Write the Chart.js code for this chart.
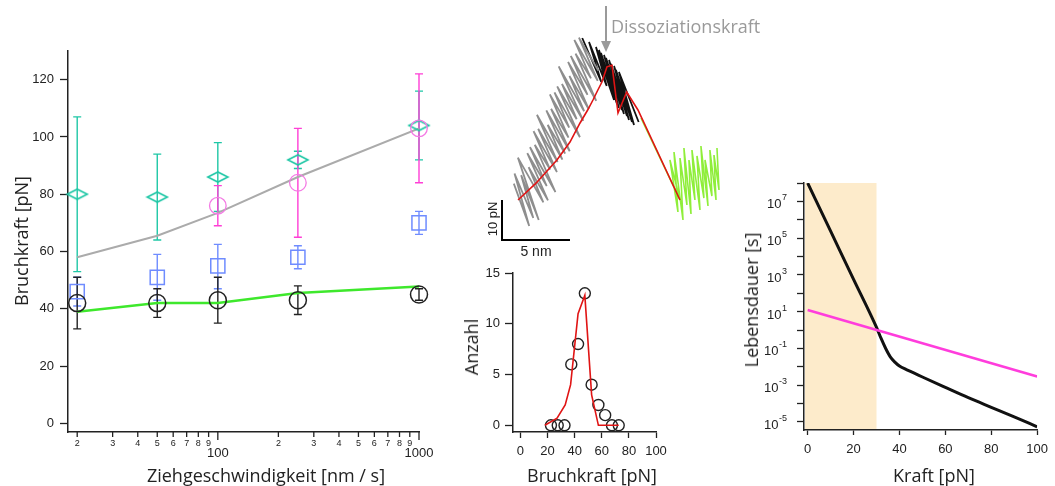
<!DOCTYPE html>
<html lang="de">
<head>
<meta charset="utf-8">
<title>Dissoziationskraft</title>
<script src="https://cdn.jsdelivr.net/npm/chart.js@4.4.1/dist/chart.umd.min.js"></script>
<style>
  html, body { margin: 0; background: #fff; }
  #fig { position: relative; width: 1055px; height: 486px; overflow: hidden; font-family: "Open Sans", Roboto, sans-serif; color: #222; }
  #fig canvas { position: absolute; }
  .lbl { position: absolute; white-space: nowrap; line-height: 1; transform: translate(-50%, -50%); }
  .rot { transform: translate(-50%, -50%) rotate(-90deg); }
  .sans { font-family: "Liberation Sans", Arial, sans-serif; }
</style>
</head>
<body>
<div id="fig">
  <canvas id="speed" width="440" height="486" style="left:0;top:0"></canvas>
  <canvas id="trace" width="355" height="262" style="left:480px;top:0"></canvas>
  <canvas id="hist" width="240" height="231" style="left:440px;top:255px"></canvas>
  <canvas id="life" width="335" height="316" style="left:720px;top:170px"></canvas>

  <div class="lbl rot" style="left:21px;top:241px;font-size:18px">Bruchkraft [pN]</div>
  <div class="lbl" style="left:266px;top:475px;font-size:18px">Ziehgeschwindigkeit [nm / s]</div>
  <div class="lbl" style="left:611px;top:26px;transform:translate(0,-50%);color:#9a9a9a;font-size:18px">Dissoziationskraft</div>
  <div class="lbl rot sans" style="left:492px;top:219px;font-size:13px">10 pN</div>
  <div class="lbl sans" style="left:536px;top:251px;font-size:14px">5 nm</div>
  <div class="lbl rot" style="left:471px;top:347px;font-size:18px">Anzahl</div>
  <div class="lbl" style="left:592px;top:475px;font-size:18px">Bruchkraft [pN]</div>
  <div class="lbl rot" style="left:751px;top:300px;font-size:18px">Lebensdauer [s]</div>
  <div class="lbl" style="left:934px;top:475px;font-size:18px">Kraft [pN]</div>
</div>

<script>
// Bruchkraft gegen Ziehgeschwindigkeit (log x)
const speeds = [20, 50, 100, 250, 1000];
const blackForce = [42, 42, 43, 43, 45];
const blackLow = [33, 37, 35, 38, 43];
const blackHigh = [51, 47, 51, 48, 47];
const blueForce = [46, 51, 55, 58, 70];
const blueLow = [41, 43, 47, 54, 66];
const blueHigh = [51, 59, 62.5, 62, 74];
const tealForce = [80, 79, 86, 92, 104];
const tealLow = [53, 64, 74, 89, 92];
const tealHigh = [107, 94, 98, 95, 116];
const pinkSpeeds = [100, 250, 1000];
const pinkForce = [76, 84, 103];
const pinkLow = [69, 65, 84];
const pinkHigh = [83, 103, 122];
const greenFit = [39, 42, 42, 45.5, 47.8];
const grayFit = [58, 65.5, 73.5, 86, 103];
const forceTicks = [0, 20, 40, 60, 80, 100, 120];
const speedTicks = [20, 30, 40, 50, 60, 70, 80, 90, 100, 200, 300, 400, 500, 600, 700, 800, 900, 1000];
const speedTickLabels = ['2', '3', '4', '5', '6', '7', '8', '9', '100', '2', '3', '4', '5', '6', '7', '8', '9', '1000'];

// Kraft-Abstands-Kurve (nm, pN), Nullpunkt am Massstab
const grayNm = [0.87, 2.0, 0.92, 2.3, 1.41, 2.7, 1.17, 3.04, 1.96, 3.38, 1.86, 3.29, 2.06, 3.93, 2.41, 3.54, 2.32, 4.04, 2.66, 4.09,
  2.57, 4.44, 3.36, 4.64, 3.26, 4.98, 3.61, 4.89, 3.52, 4.94, 3.86, 5.73, 4.06, 5.49, 4.41, 5.98, 4.17, 6.04, 4.96, 6.38,
  4.86, 6.29, 5.06, 6.93, 5.41, 6.54, 5.32, 7.04, 5.66, 7.09];
const grayPn = [14.1, 3.5, 16.6, 5.5, 16.2, 5.0, 20.6, 9.4, 18.2, 9.9, 21.7, 13.5, 23.2, 12.0, 23.8, 17.6, 27.2, 17.0, 27.8, 19.5,
  31.3, 20.1, 28.8, 21.6, 32.4, 22.2, 32.8, 25.6, 36.4, 28.1, 36.9, 25.7, 38.4, 30.2, 39.0, 29.8, 43.4, 32.2, 41.0, 32.7,
  44.5, 36.3, 46.0, 34.8, 46.6, 40.4, 50.0, 39.8, 50.6, 42.3];
const blackNm = [5.9, 7.3, 6.4, 7.7, 6.91, 8.24, 7.13, 8.46, 7.28, 8.6, 7.5, 8.82, 7.65, 8.97, 7.87, 9.19, 8.01, 9.34, 8.24, 9.56,
  8.38, 9.71, 8.6, 10.05];
const blackPn = [50.5, 39.5, 49.5, 38.5, 48.25, 35, 47.5, 34, 46.75, 33, 46.25, 32.5, 45.5, 31.5, 45, 31, 44, 30, 43.5, 29.5,
  42.5, 28.75, 42, 29.5];
const greenNm = [10.22, 11.62, 13.09, 12.35, 12.94, 12.65, 13.31, 13.09, 13.6, 13.38, 13.9, 13.75, 14.19, 13.97, 14.56, 14.34,
  14.85, 14.63, 15.15, 14.93, 15.44, 15.29, 15.74, 15.59, 15.96, 15.81];
const greenPn = [30.5, 20.5, 10, 20, 7, 22, 5, 20.5, 8.75, 23, 6.5, 20, 10, 22.5, 7.5, 21, 10.5, 23.5, 8.5, 20, 11, 22.5, 10, 21.25, 12.5, 23];
const fitNm = [1.18, 2.5, 4.04, 5.0, 5.74, 6.3, 6.69, 7.05, 7.35, 7.72, 8.09, 8.53, 9.17, 10.0, 13.09];
const fitPn = [10, 14.2, 20, 24.5, 29.25, 32.5, 35, 37.5, 39.5, 43.3, 43.7, 31.75, 37, 32.5, 10];
const barNm = 5;
const barPn = 10;
const dissocNm = 7.65;
const dissocPn = 47;

// Histogramm der Bruchkraefte
const histBins = [22.5, 27.5, 32.5, 37.5, 42.5, 47.5, 52.5, 57.5, 62.5, 67.5, 72.5];
const histCounts = [0, 0, 0, 6, 8, 13, 4, 2, 1, 0, 0];
const histFitX = [18, 27, 33, 37, 42.5, 47.5, 52.5, 57.5, 72.5];
const histFitY = [0, 0.7, 2, 4, 11, 12.8, 3, 0, 0];
const countTicks = [0, 5, 10, 15];
const binTicks = [0, 20, 40, 60, 80, 100];

// Lebensdauer gegen Kraft
const kraftGrid = [0, 10, 20, 30, 32, 34, 36, 38, 40, 43, 46, 50, 60, 70, 80, 90, 100];
const lifeBlack = [1e8, 2.4e5, 575, 1.4, 0.35, 0.1, 0.035, 0.018, 0.011, 0.0071, 0.0048, 0.0028, 7.6e-4, 2.1e-4, 6.3e-5, 1.9e-5, 5.5e-6];
const pinkKraft = [0, 100];
const lifePink = [12.3, 0.003];
const lifeExponents = [8, 7, 6, 5, 4, 3, 2, 1, 0, -1, -2, -3, -4, -5];
const kraftTicks = [0, 20, 40, 60, 80, 100];
const shadedUpTo = 30;

const INK = '#222';
const FONT = '"Liberation Sans", Arial, sans-serif';
Chart.defaults.font.family = FONT;
Chart.defaults.color = INK;

const pts = (xs, ys) => xs.map((x, i) => ({ x, y: ys[i] }));

function axisStyle(tickLength, padding) {
  return {
    grid: { drawOnChartArea: false, tickLength, tickColor: INK, tickWidth: 1.3 },
    border: { color: INK, width: 1.5 },
    ticks: { color: INK, font: { size: 13 }, autoSkip: false, maxRotation: 0, padding }
  };
}

const baseOptions = (padding) => ({
  responsive: false,
  animation: false,
  events: [],
  layout: { padding },
  plugins: { legend: { display: false }, tooltip: { enabled: false } }
});

// flache Raute fuer die tuerkisen Messpunkte
function diamond(w, h, color) {
  const c = document.createElement('canvas');
  c.width = w + 4;
  c.height = h + 4;
  const g = c.getContext('2d');
  g.strokeStyle = color;
  g.lineWidth = 1.6;
  g.beginPath();
  g.moveTo(2, h / 2 + 2);
  g.lineTo(w / 2 + 2, 2);
  g.lineTo(w + 2, h / 2 + 2);
  g.lineTo(w / 2 + 2, h + 2);
  g.closePath();
  g.stroke();
  return c;
}

const TEAL = '#1fc7a6';
const BLUE = '#6f8cff';
const PINK = '#ff3fd6';

const errorSets = [
  { xs: speeds, low: tealLow, high: tealHigh, color: TEAL },
  { xs: speeds, low: blueLow, high: blueHigh, color: BLUE },
  { xs: speeds, low: blackLow, high: blackHigh, color: INK },
  { xs: pinkSpeeds, low: pinkLow, high: pinkHigh, color: PINK }
];

const errorBars = {
  id: 'errorBars',
  beforeDatasetsDraw(chart) {
    const { ctx, scales: { x, y } } = chart;
    ctx.save();
    ctx.lineWidth = 1.4;
    errorSets.forEach(s => {
      ctx.strokeStyle = s.color;
      s.xs.forEach((v, i) => {
        const px = x.getPixelForValue(v);
        const lo = y.getPixelForValue(s.low[i]);
        const hi = y.getPixelForValue(s.high[i]);
        ctx.beginPath();
        ctx.moveTo(px, lo); ctx.lineTo(px, hi);
        ctx.moveTo(px - 4, lo); ctx.lineTo(px + 4, lo);
        ctx.moveTo(px - 4, hi); ctx.lineTo(px + 4, hi);
        ctx.stroke();
      });
    });
    ctx.restore();
  }
};

// Igor-artige Log-Achse: kurze Striche mit kleinen Ziffern, lange Striche an den Dekaden
const speedAxisMarks = {
  id: 'speedAxisMarks',
  afterDraw(chart) {
    const { ctx, scales: { x } } = chart;
    const y0 = x.top;
    ctx.save();
    ctx.strokeStyle = INK;
    ctx.fillStyle = INK;
    ctx.lineWidth = 1.3;
    ctx.textAlign = 'center';
    ctx.textBaseline = 'middle';
    speedTicks.forEach((v, i) => {
      const px = x.getPixelForValue(v);
      const major = speedTickLabels[i].length > 1;
      ctx.beginPath();
      ctx.moveTo(px, y0);
      ctx.lineTo(px, y0 + (major ? 8 : 5));
      ctx.stroke();
      ctx.font = (major ? 13 : 9) + 'px ' + FONT;
      ctx.fillText(speedTickLabels[i], px, y0 + (major ? 21 : 12));
    });
    ctx.restore();
  }
};

new Chart(document.getElementById('speed'), {
  type: 'scatter',
  data: {
    datasets: [
      { data: pts(speeds, blackForce), pointStyle: 'circle', pointRadius: 8.5, pointBorderColor: INK, pointBorderWidth: 1.5, pointBackgroundColor: 'rgba(0,0,0,0)', clip: false },
      { data: pts(pinkSpeeds, pinkForce), pointStyle: 'circle', pointRadius: 8.3, pointBorderColor: '#f47ae4', pointBorderWidth: 1.3, pointBackgroundColor: 'rgba(0,0,0,0)', clip: false },
      { data: pts(speeds, blueForce), pointStyle: 'rect', pointRadius: 10, pointBorderColor: BLUE, pointBorderWidth: 1.5, pointBackgroundColor: 'rgba(0,0,0,0)', clip: false },
      { data: pts(speeds, tealForce), pointStyle: diamond(20, 10, TEAL), pointRadius: 6, clip: false },
      { data: pts(speeds, greenFit), showLine: true, borderColor: '#3ee82c', borderWidth: 2.5, pointRadius: 0 },
      { data: pts(speeds, grayFit), showLine: true, borderColor: '#ababab', borderWidth: 2, pointRadius: 0 }
    ]
  },
  options: {
    ...baseOptions({ top: 51, right: 21, left: 0, bottom: 0 }),
    scales: {
      x: {
        type: 'logarithmic', min: 18, max: 1000,
        afterBuildTicks: s => { s.ticks = speedTicks.map(value => ({ value })); },
        afterFit: s => { s.height = 54; },
        grid: { drawOnChartArea: false, drawTicks: false },
        border: { color: INK, width: 1.5 },
        ticks: { display: false }
      },
      y: {
        min: -3, max: 130,
        afterBuildTicks: s => { s.ticks = forceTicks.map(value => ({ value })); },
        afterFit: s => { s.width = 68; },
        ...axisStyle(8, 6)
      }
    }
  },
  plugins: [errorBars, speedAxisMarks]
});

// Pfeil zur Dissoziationskraft
const dissocArrow = {
  id: 'dissocArrow',
  afterDatasetsDraw(chart) {
    const { ctx, scales: { x, y } } = chart;
    const px = x.getPixelForValue(dissocNm);
    const tip = y.getPixelForValue(dissocPn);
    ctx.save();
    ctx.strokeStyle = '#9a9a9a';
    ctx.fillStyle = '#9a9a9a';
    ctx.lineWidth = 2;
    ctx.beginPath();
    ctx.moveTo(px, tip - 46);
    ctx.lineTo(px, tip - 9);
    ctx.stroke();
    ctx.beginPath();
    ctx.moveTo(px - 5, tip - 11);
    ctx.lineTo(px + 5, tip - 11);
    ctx.lineTo(px, tip);
    ctx.closePath();
    ctx.fill();
    ctx.restore();
  }
};

const traceLine = (xs, ys, color, width) => ({
  data: pts(xs, ys), showLine: true, borderColor: color, borderWidth: width, pointRadius: 0, tension: 0, clip: false
});

new Chart(document.getElementById('trace'), {
  type: 'scatter',
  data: {
    datasets: [
      traceLine(fitNm, fitPn, '#e01414', 1.6),
      traceLine(grayNm, grayPn, '#8e8e8e', 1.8),
      traceLine(blackNm, blackPn, '#111', 1.8),
      traceLine(greenNm, greenPn, '#8fee3a', 1.6),
      traceLine([0, 0, barNm], [barPn, 0, 0], '#000', 2)
    ]
  },
  options: {
    ...baseOptions(0),
    scales: {
      x: { display: false, min: -1.618, max: 24.49 },
      y: { display: false, min: -5.5, max: 60 }
    }
  },
  plugins: [dissocArrow]
});

new Chart(document.getElementById('hist'), {
  type: 'scatter',
  data: {
    datasets: [
      { data: pts(histFitX, histFitY), showLine: true, borderColor: '#e01414', borderWidth: 1.6, pointRadius: 0, clip: false },
      { data: pts(histBins, histCounts), pointStyle: 'circle', pointRadius: 5.5, pointBorderColor: INK, pointBorderWidth: 1.4, pointBackgroundColor: 'rgba(0,0,0,0)', clip: false }
    ]
  },
  options: {
    ...baseOptions({ top: 18, right: 24, left: 0, bottom: 0 }),
    scales: {
      x: {
        min: -5.5, max: 100,
        afterBuildTicks: s => { s.ticks = binTicks.map(value => ({ value })); },
        afterFit: s => { s.height = 54; },
        ...axisStyle(6, 6)
      },
      y: {
        min: -0.66, max: 15,
        afterBuildTicks: s => { s.ticks = countTicks.map(value => ({ value })); },
        afterFit: s => { s.width = 73; },
        ...axisStyle(8, 5)
      }
    }
  }
});

const shade = {
  id: 'shade',
  beforeDatasetsDraw(chart) {
    const { ctx, chartArea: a, scales: { x } } = chart;
    ctx.save();
    ctx.fillStyle = '#fdebcb';
    ctx.fillRect(a.left + 1, a.top, x.getPixelForValue(shadedUpTo) - a.left - 1, a.bottom - a.top - 1);
    ctx.restore();
  }
};

// Dekaden-Beschriftung "10" mit hochgestelltem Exponenten, nur ungerade Exponenten
const lifeAxisLabels = {
  id: 'lifeAxisLabels',
  afterDraw(chart) {
    const { ctx, scales: { y } } = chart;
    const right = y.right - 17;
    ctx.save();
    ctx.fillStyle = INK;
    ctx.textAlign = 'left';
    ctx.textBaseline = 'alphabetic';
    lifeExponents.filter(e => e % 2 !== 0).forEach(e => {
      const py = y.getPixelForValue(Math.pow(10, e));
      const exp = String(e);
      ctx.font = '9px ' + FONT;
      const ew = ctx.measureText(exp).width;
      ctx.font = '13px ' + FONT;
      const bw = ctx.measureText('10').width;
      const x0 = right - ew - bw - 0.5;
      ctx.fillText('10', x0, py + 7);
      ctx.font = '9px ' + FONT;
      ctx.fillText(exp, x0 + bw + 0.5, py - 1);
    });
    ctx.restore();
  }
};

new Chart(document.getElementById('life'), {
  type: 'scatter',
  data: {
    datasets: [
      { data: pts(pinkKraft, lifePink), showLine: true, borderColor: '#ff3ddc', borderWidth: 2.6, pointRadius: 0 },
      { data: pts(kraftGrid, lifeBlack), showLine: true, borderColor: '#111', borderWidth: 3, pointRadius: 0, cubicInterpolationMode: 'monotone' }
    ]
  },
  options: {
    ...baseOptions({ top: 13, right: 15, left: 0, bottom: 0 }),
    scales: {
      x: {
        min: -1.6, max: 100,
        afterBuildTicks: s => { s.ticks = kraftTicks.map(value => ({ value })); },
        afterFit: s => { s.height = 56; },
        ...axisStyle(5, 7)
      },
      y: {
        type: 'logarithmic', min: 3.67e-6, max: 1e8,
        afterBuildTicks: s => { s.ticks = lifeExponents.map(e => ({ value: Math.pow(10, e) })); },
        afterFit: s => { s.width = 84; },
        grid: { drawOnChartArea: false, tickLength: 7, tickColor: INK, tickWidth: 1.3 },
        border: { color: INK, width: 1.5 },
        ticks: { display: false }
      }
    }
  },
  plugins: [shade, lifeAxisLabels]
});
</script>
</body>
</html>
